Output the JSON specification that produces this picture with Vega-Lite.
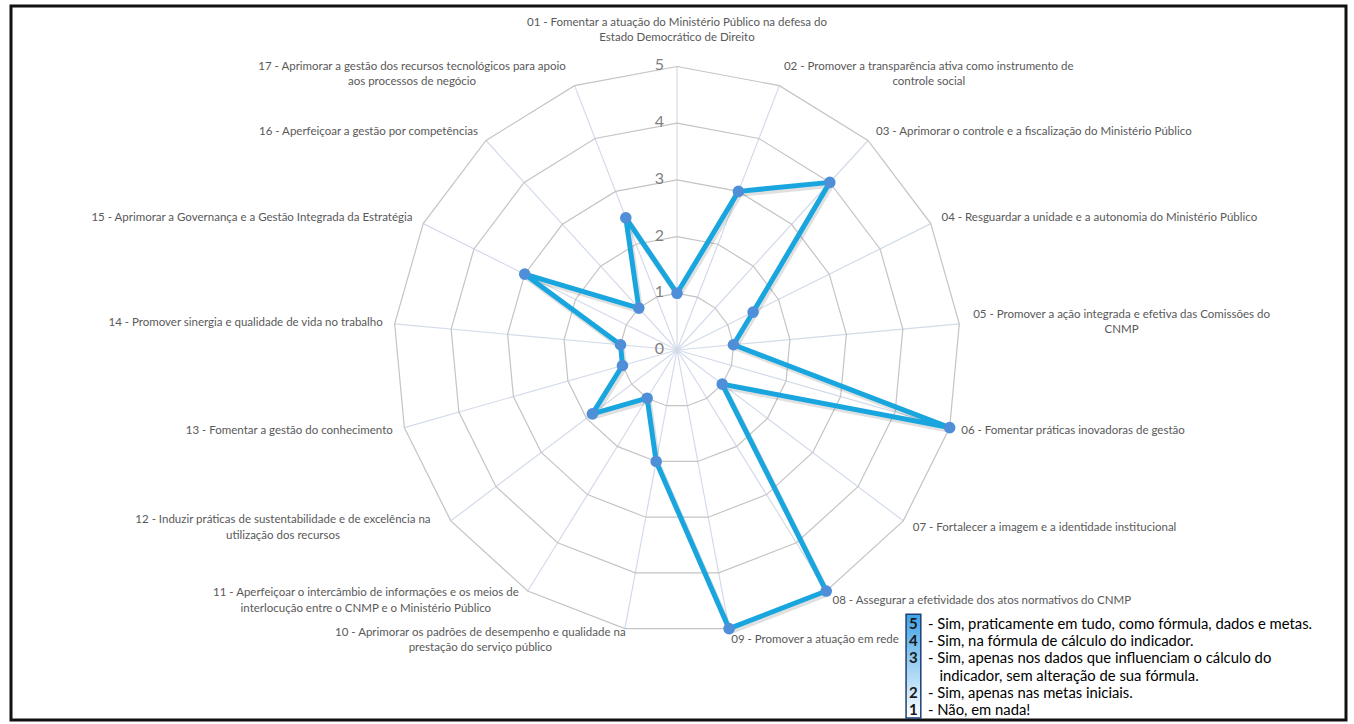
{
  "$schema": "https://vega.github.io/schema/vega-lite/v6.json",
  "width": 1354,
  "height": 724,
  "autosize": {"type": "fit", "contains": "padding"},
  "padding": {"left": 11, "top": 6, "right": 8, "bottom": 4},
  "background": "white",
  "config": {"view": {"stroke": "#111111", "strokeWidth": 3}, "font": "Lato"},
  "datasets": {
    "axes": [
      {"idx": 0, "value": 1, "levels": [1, 2, 3, 4, 5], "label": "01 - Fomentar a atuação do Ministério Público na defesa do\nEstado Democrático de Direito"},
      {"idx": 1, "value": 3, "levels": [1, 2, 3, 4, 5], "label": "02 - Promover a transparência ativa como instrumento de\ncontrole social"},
      {"idx": 2, "value": 4, "levels": [1, 2, 3, 4, 5], "label": "03 - Aprimorar o controle e a fiscalização do Ministério Público"},
      {"idx": 3, "value": 1.5, "levels": [1, 2, 3, 4, 5], "label": "04 - Resguardar a unidade e a autonomia do Ministério Público"},
      {"idx": 4, "value": 1, "levels": [1, 2, 3, 4, 5], "label": "05 - Promover a ação integrada e efetiva das Comissões do\nCNMP"},
      {"idx": 5, "value": 5, "levels": [1, 2, 3, 4, 5], "label": "06 - Fomentar práticas inovadoras de gestão"},
      {"idx": 6, "value": 1, "levels": [1, 2, 3, 4, 5], "label": "07 - Fortalecer a imagem e a identidade institucional"},
      {"idx": 7, "value": 5, "levels": [1, 2, 3, 4, 5], "label": "08 - Assegurar a efetividade dos atos normativos do CNMP"},
      {"idx": 8, "value": 5, "levels": [1, 2, 3, 4, 5], "label": "09 - Promover a atuação em rede"},
      {"idx": 9, "value": 2, "levels": [1, 2, 3, 4, 5], "label": "10 - Aprimorar os padrões de desempenho e qualidade na\nprestação do serviço público"},
      {"idx": 10, "value": 1, "levels": [1, 2, 3, 4, 5], "label": "11 - Aperfeiçoar o intercâmbio de informações e os meios de\ninterlocução entre o CNMP e o Ministério Público"},
      {"idx": 11, "value": 1.87, "levels": [1, 2, 3, 4, 5], "label": "12 - Induzir práticas de sustentabilidade e de excelência na\nutilização dos recursos"},
      {"idx": 12, "value": 1, "levels": [1, 2, 3, 4, 5], "label": "13 - Fomentar a gestão do conhecimento"},
      {"idx": 13, "value": 1, "levels": [1, 2, 3, 4, 5], "label": "14 - Promover sinergia e qualidade de vida no trabalho"},
      {"idx": 14, "value": 3, "levels": [1, 2, 3, 4, 5], "label": "15 -  Aprimorar a Governança e a Gestão Integrada da Estratégia"},
      {"idx": 15, "value": 1, "levels": [1, 2, 3, 4, 5], "label": "16 - Aperfeiçoar a gestão por competências"},
      {"idx": 16, "value": 2.5, "levels": [1, 2, 3, 4, 5], "label": "17 - Aprimorar a gestão dos recursos tecnológicos para apoio\naos processos de negócio"}
    ],
    "ticks": [{"tick": 0}, {"tick": 1}, {"tick": 2}, {"tick": 3}, {"tick": 4}, {"tick": 5}]
  },
  "layer": [
    {
      "data": {"name": "axes"},
      "transform": [
        {"calculate": "5*sin(datum.idx*2*PI/17)", "as": "px"},
        {"calculate": "5*cos(datum.idx*2*PI/17)", "as": "py"}
      ],
      "mark": {"type": "rule", "color": "#d3dbea", "strokeWidth": 1.2},
      "encoding": {
        "x": {"field": "px", "type": "quantitative", "scale": {"domain": [-11.746, 11.799], "nice": false, "zero": false}, "axis": null},
        "y": {"field": "py", "type": "quantitative", "scale": {"domain": [-6.526, 6.067], "nice": false, "zero": false}, "axis": null},
        "x2": {"datum": 0},
        "y2": {"datum": 0}
      }
    },
    {
      "data": {"name": "axes"},
      "transform": [
        {"flatten": ["levels"], "as": ["level"]},
        {"calculate": "datum.level*sin(datum.idx*2*PI/17)", "as": "px"},
        {"calculate": "datum.level*cos(datum.idx*2*PI/17)", "as": "py"}
      ],
      "mark": {"type": "line", "interpolate": "linear-closed", "color": "#c4c4c4", "strokeWidth": 1.2},
      "encoding": {
        "x": {"field": "px", "type": "quantitative", "scale": {"domain": [-11.746, 11.799], "nice": false, "zero": false}, "axis": null},
        "y": {"field": "py", "type": "quantitative", "scale": {"domain": [-6.526, 6.067], "nice": false, "zero": false}, "axis": null},
        "detail": {"field": "level"},
        "order": {"field": "idx", "type": "quantitative"}
      }
    },
    {
      "data": {"name": "ticks"},
      "mark": {"type": "text", "align": "right", "baseline": "middle", "dx": -13, "dy": -1, "fontSize": 16, "color": "#7f7f7f"},
      "encoding": {
        "x": {"datum": 0, "type": "quantitative", "scale": {"domain": [-11.746, 11.799], "nice": false, "zero": false}, "axis": null},
        "y": {"field": "tick", "type": "quantitative", "scale": {"domain": [-6.526, 6.067], "nice": false, "zero": false}, "axis": null},
        "text": {"field": "tick", "type": "quantitative"}
      }
    },
    {
      "data": {"name": "axes"},
      "transform": [
        {"calculate": "datum.value*sin(datum.idx*2*PI/17)", "as": "px"},
        {"calculate": "datum.value*cos(datum.idx*2*PI/17)", "as": "py"}
      ],
      "mark": {"type": "line", "interpolate": "linear-closed", "color": "#000000", "opacity": 0.12, "strokeWidth": 6, "strokeJoin": "round", "xOffset": 1.5, "yOffset": 2.5},
      "encoding": {
        "x": {"field": "px", "type": "quantitative", "scale": {"domain": [-11.746, 11.799], "nice": false, "zero": false}, "axis": null},
        "y": {"field": "py", "type": "quantitative", "scale": {"domain": [-6.526, 6.067], "nice": false, "zero": false}, "axis": null},
        "order": {"field": "idx", "type": "quantitative"}
      }
    },
    {
      "data": {"name": "axes"},
      "transform": [
        {"calculate": "datum.value*sin(datum.idx*2*PI/17)", "as": "px"},
        {"calculate": "datum.value*cos(datum.idx*2*PI/17)", "as": "py"}
      ],
      "mark": {"type": "line", "interpolate": "linear-closed", "color": "#19a6df", "strokeWidth": 5, "strokeJoin": "round"},
      "encoding": {
        "x": {"field": "px", "type": "quantitative", "scale": {"domain": [-11.746, 11.799], "nice": false, "zero": false}, "axis": null},
        "y": {"field": "py", "type": "quantitative", "scale": {"domain": [-6.526, 6.067], "nice": false, "zero": false}, "axis": null},
        "order": {"field": "idx", "type": "quantitative"}
      }
    },
    {
      "data": {"name": "axes"},
      "transform": [
        {"calculate": "datum.value*sin(datum.idx*2*PI/17)", "as": "px"},
        {"calculate": "datum.value*cos(datum.idx*2*PI/17)", "as": "py"}
      ],
      "mark": {"type": "point", "filled": true, "size": 135, "color": "#4f8fd8", "opacity": 1},
      "encoding": {
        "x": {"field": "px", "type": "quantitative", "scale": {"domain": [-11.746, 11.799], "nice": false, "zero": false}, "axis": null},
        "y": {"field": "py", "type": "quantitative", "scale": {"domain": [-6.526, 6.067], "nice": false, "zero": false}, "axis": null}
      }
    },
    {
      "data": {"name": "axes"},
      "transform": [
        {"calculate": "sin(datum.idx*2*PI/17)", "as": "s"},
        {"calculate": "cos(datum.idx*2*PI/17)", "as": "c"},
        {"filter": "indexof(datum.label,'\\n') < 0 && datum.s > 0.05"},
        {"calculate": "5.212*datum.s", "as": "px"},
        {"calculate": "5.212*datum.c", "as": "py"}
      ],
      "mark": {"type": "text", "align": "left", "baseline": "middle", "fontSize": 11.5, "color": "#595959"},
      "encoding": {
        "x": {"field": "px", "type": "quantitative", "scale": {"domain": [-11.746, 11.799], "nice": false, "zero": false}, "axis": null},
        "y": {"field": "py", "type": "quantitative", "scale": {"domain": [-6.526, 6.067], "nice": false, "zero": false}, "axis": null},
        "text": {"field": "label"}
      }
    },
    {
      "data": {"name": "axes"},
      "transform": [
        {"calculate": "sin(datum.idx*2*PI/17)", "as": "s"},
        {"calculate": "cos(datum.idx*2*PI/17)", "as": "c"},
        {"filter": "indexof(datum.label,'\\n') < 0 && datum.s < -0.05"},
        {"calculate": "5.212*datum.s", "as": "px"},
        {"calculate": "5.212*datum.c", "as": "py"}
      ],
      "mark": {"type": "text", "align": "right", "baseline": "middle", "fontSize": 11.5, "color": "#595959"},
      "encoding": {
        "x": {"field": "px", "type": "quantitative", "scale": {"domain": [-11.746, 11.799], "nice": false, "zero": false}, "axis": null},
        "y": {"field": "py", "type": "quantitative", "scale": {"domain": [-6.526, 6.067], "nice": false, "zero": false}, "axis": null},
        "text": {"field": "label"}
      }
    },
    {
      "data": {"name": "axes"},
      "transform": [
        {"calculate": "sin(datum.idx*2*PI/17)", "as": "s"},
        {"calculate": "cos(datum.idx*2*PI/17)", "as": "c"},
        {"filter": "indexof(datum.label,'\\n') >= 0"},
        {"calculate": "length(split(datum.label,'\\n')[0])", "as": "l1"},
        {"calculate": "max(datum.l1, length(datum.label)-datum.l1-1)*0.0465", "as": "hw"},
        {"calculate": "datum.idx == 0 ? 0 : 5.212*datum.s + (datum.s > 0 ? datum.hw : -datum.hw)", "as": "px"},
        {"calculate": "datum.idx == 0 ? 5.77 : 5.212*datum.c + 0.137", "as": "py"}
      ],
      "mark": {"type": "text", "align": "center", "baseline": "middle", "fontSize": 11.5, "lineHeight": 15.5, "lineBreak": "\n", "color": "#595959"},
      "encoding": {
        "x": {"field": "px", "type": "quantitative", "scale": {"domain": [-11.746, 11.799], "nice": false, "zero": false}, "axis": null},
        "y": {"field": "py", "type": "quantitative", "scale": {"domain": [-6.526, 6.067], "nice": false, "zero": false}, "axis": null},
        "text": {"field": "label"}
      }
    },
    {
      "data": {"values": [{}]},
      "mark": {
        "type": "rect",
        "stroke": "#1f3f77",
        "strokeWidth": 1.5,
        "fill": {"gradient": "linear", "x1": 0, "y1": 0, "x2": 0, "y2": 1, "stops": [{"offset": 0, "color": "#3fa3e6"}, {"offset": 1, "color": "#ffffff"}]}
      },
      "encoding": {
        "x": {"datum": 4.04, "type": "quantitative", "scale": {"domain": [-11.746, 11.799], "nice": false, "zero": false}, "axis": null},
        "x2": {"datum": 4.3},
        "y": {"datum": -4.66, "type": "quantitative", "scale": {"domain": [-6.526, 6.067], "nice": false, "zero": false}, "axis": null},
        "y2": {"datum": -6.49}
      }
    },
    {
      "data": {"values": [{}]},
      "mark": {"type": "text", "align": "center", "baseline": "top", "fontSize": 15, "fontWeight": "bold", "lineHeight": 17.2, "color": "#1a1a1a"},
      "encoding": {
        "x": {"datum": 4.17, "type": "quantitative", "scale": {"domain": [-11.746, 11.799], "nice": false, "zero": false}, "axis": null},
        "y": {"datum": -4.709, "type": "quantitative", "scale": {"domain": [-6.526, 6.067], "nice": false, "zero": false}, "axis": null},
        "text": {"value": ["5", "4", "3"]}
      }
    },
    {
      "data": {"values": [{}]},
      "mark": {"type": "text", "align": "center", "baseline": "top", "fontSize": 15, "fontWeight": "bold", "lineHeight": 17.2, "color": "#1a1a1a"},
      "encoding": {
        "x": {"datum": 4.17, "type": "quantitative", "scale": {"domain": [-11.746, 11.799], "nice": false, "zero": false}, "axis": null},
        "y": {"datum": -5.922, "type": "quantitative", "scale": {"domain": [-6.526, 6.067], "nice": false, "zero": false}, "axis": null},
        "text": {"value": ["2", "1"]}
      }
    },
    {
      "data": {"values": [{}]},
      "mark": {"type": "text", "align": "left", "baseline": "top", "fontSize": 14.8, "lineHeight": 17.2, "color": "#000000"},
      "encoding": {
        "x": {"datum": 4.427, "type": "quantitative", "scale": {"domain": [-11.746, 11.799], "nice": false, "zero": false}, "axis": null},
        "y": {"datum": -4.709, "type": "quantitative", "scale": {"domain": [-6.526, 6.067], "nice": false, "zero": false}, "axis": null},
        "text": {"value": ["- Sim, praticamente em tudo, como fórmula, dados e metas.", "- Sim, na fórmula de cálculo do indicador.", "- Sim, apenas nos dados que influenciam o cálculo do"]}
      }
    },
    {
      "data": {"values": [{}]},
      "mark": {"type": "text", "align": "left", "baseline": "top", "fontSize": 14.8, "color": "#000000"},
      "encoding": {
        "x": {"datum": 4.63, "type": "quantitative", "scale": {"domain": [-11.746, 11.799], "nice": false, "zero": false}, "axis": null},
        "y": {"datum": -5.619, "type": "quantitative", "scale": {"domain": [-6.526, 6.067], "nice": false, "zero": false}, "axis": null},
        "text": {"value": "indicador, sem alteração de sua fórmula."}
      }
    },
    {
      "data": {"values": [{}]},
      "mark": {"type": "text", "align": "left", "baseline": "top", "fontSize": 14.8, "lineHeight": 17.2, "color": "#000000"},
      "encoding": {
        "x": {"datum": 4.427, "type": "quantitative", "scale": {"domain": [-11.746, 11.799], "nice": false, "zero": false}, "axis": null},
        "y": {"datum": -5.922, "type": "quantitative", "scale": {"domain": [-6.526, 6.067], "nice": false, "zero": false}, "axis": null},
        "text": {"value": ["- Sim, apenas nas metas iniciais.", "- Não, em nada!"]}
      }
    }
  ]
}
